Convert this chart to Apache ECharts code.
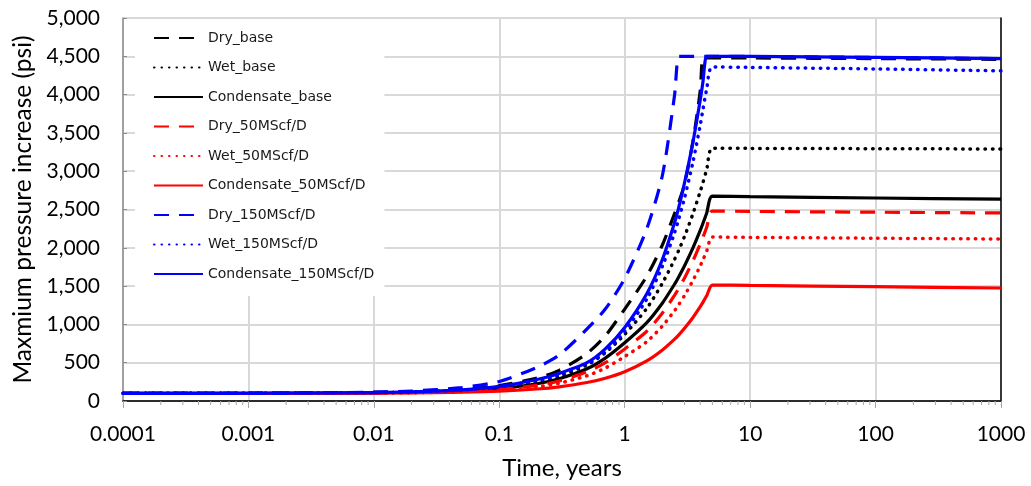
<!DOCTYPE html>
<html>
<head>
<meta charset="utf-8">
<script src="https://cdn.jsdelivr.net/npm/echarts@6/dist/echarts.min.js"></script>
<style>
  html, body { margin: 0; padding: 0; background: #fff; }
  #chart { width: 1031px; height: 486px; }
</style>
</head>
<body>
<div id="chart"></div>
<script>
// Time axis samples (years)
const years = [0.0001, 0.001, 0.01, 0.02, 0.05, 0.1, 0.2, 0.3, 0.5, 0.7, 1, 1.5, 2, 2.5, 2.7, 3, 3.5, 4, 4.2, 4.5, 5, 10, 100, 1000];

// Maximum pressure increase (psi) per case
const dryBase  = [100, 101, 112, 122, 150, 200, 300, 400, 620, 850, 1200, 1630, 2040, 2450, 2600, 2830, 3390, 4050, 4480, 4480, 4480, 4478, 4470, 4460];
const wetBase  = [100, 101, 108, 115, 138, 175, 252, 325, 470, 630, 870, 1210, 1540, 1850, 1970, 2150, 2445, 2735, 2850, 3020, 3300, 3298, 3294, 3290];
const condBase = [100, 101, 106, 112, 130, 160, 225, 290, 420, 560, 760, 1023, 1280, 1526, 1623, 1766, 1999, 2227, 2318, 2452, 2675, 2668, 2650, 2635];
const dry50    = [100, 100, 105, 110, 125, 150, 205, 262, 380, 500, 680, 911, 1149, 1381, 1472, 1607, 1829, 2049, 2137, 2265, 2480, 2475, 2465, 2455];
const wet50    = [100, 100, 104, 108, 120, 140, 185, 232, 330, 430, 580, 775, 980, 1180, 1260, 1378, 1574, 1763, 1841, 1955, 2140, 2136, 2125, 2115];
const cond50   = [100, 100, 103, 106, 114, 128, 157, 185, 241, 298, 383, 524, 666, 807, 864, 949, 1090, 1232, 1288, 1373, 1514, 1509, 1492, 1475];
const dry150   = [100, 101, 115, 130, 175, 255, 440, 600, 940, 1200, 1600, 2250, 2950, 4000, 4500, 4500, 4500, 4500, 4500, 4500, 4500, 4498, 4485, 4470];
const wet150   = [100, 101, 109, 117, 142, 184, 268, 345, 485, 640, 910, 1330, 1760, 2200, 2380, 2650, 3120, 3600, 3800, 4070, 4360, 4355, 4335, 4310];
const cond150  = [100, 101, 110, 118, 145, 190, 280, 360, 500, 680, 960, 1400, 1850, 2330, 2530, 2850, 3380, 3930, 4160, 4500, 4500, 4498, 4485, 4470];

// Log-axis minor tick positions (2..9 within each decade)
const minorTickYears = [];
for (let e = -4; e < 3; e++) {
  for (let k = 2; k <= 9; k++) minorTickYears.push(+(k * Math.pow(10, e)).toPrecision(2));
}

const DASH = [15, 10];
const DOT = [0.5, 7];

const seriesDefs = [
  { name: 'Dry_base',              data: dryBase,  color: '#000000', type: DASH },
  { name: 'Wet_base',              data: wetBase,  color: '#000000', type: DOT },
  { name: 'Condensate_base',       data: condBase, color: '#000000', type: 'solid' },
  { name: 'Dry_50MScf/D',          data: dry50,    color: '#ff0000', type: DASH },
  { name: 'Wet_50MScf/D',          data: wet50,    color: '#ff0000', type: DOT },
  { name: 'Condensate_50MScf/D',   data: cond50,   color: '#ff0000', type: 'solid' },
  { name: 'Dry_150MScf/D',         data: dry150,   color: '#0000ff', type: DASH },
  { name: 'Wet_150MScf/D',         data: wet150,   color: '#0000ff', type: DOT },
  { name: 'Condensate_150MScf/D',  data: cond150,  color: '#0000ff', type: 'solid' }
];

const lineSeries = seriesDefs.map(d => ({
  name: d.name,
  type: 'line',
  xAxisIndex: 0,
  yAxisIndex: 0,
  data: years.map((t, i) => [t, d.data[i]]),
  showSymbol: false,
  symbol: 'none',
  smooth: 0.25,
  color: d.color,
  lineStyle: {
    color: d.color,
    width: d.type === DOT ? 3.5 : 3.2,
    type: d.type,
    cap: d.type === DOT ? 'round' : 'butt'
  },
  emphasis: { disabled: true }
}));

// Short minor ticks hanging below the time axis
const minorTickSeries = {
  type: 'custom',
  xAxisIndex: 0,
  yAxisIndex: 0,
  silent: true,
  clip: false,
  data: minorTickYears.map(t => [t, 0]),
  renderItem: function (params, api) {
    const p = api.coord([api.value(0), 0]);
    return {
      type: 'line',
      shape: { x1: p[0], y1: p[1], x2: p[0], y2: p[1] + 4 },
      style: { stroke: '#a6a6a6', lineWidth: 1 }
    };
  }
};

const labelFont = 'Lato, "Noto Sans", sans-serif';

const option = {
  animation: false,
  backgroundColor: '#ffffff',
  grid: { left: 123, right: 30, top: 18, bottom: 85 },
  legend: {
    orient: 'vertical',
    left: 135,
    top: 19,
    padding: [12, 10, 15, 18],
    backgroundColor: '#ffffff',
    itemWidth: 49,
    itemHeight: 14,
    itemGap: 15.5,
    itemStyle: { opacity: 0 },
    data: seriesDefs.map(d => d.name),
    textStyle: { fontFamily: '"DejaVu Sans", sans-serif', fontSize: 14, color: '#1a1a1a', lineHeight: 14 }
  },
  xAxis: [
    {
      type: 'log',
      logBase: 10,
      min: 0.0001,
      max: 1000,
      interval: 1,
      name: 'Time, years',
      nameLocation: 'middle',
      nameGap: 55,
      nameTextStyle: { fontFamily: labelFont, fontSize: 24, color: '#000' },
      axisLine: { lineStyle: { color: '#a6a6a6', width: 1.5 } },
      axisTick: { show: true, length: 7, lineStyle: { color: '#a6a6a6' } },
      axisLabel: {
        fontFamily: labelFont, fontSize: 21, color: '#000', margin: 23,
        formatter: v => String(+(+v).toPrecision(1))
      },
      splitLine: { show: true, lineStyle: { color: '#d9d9d9', width: 2 } }
    },
    {
      type: 'log',
      logBase: 10,
      min: 0.0001,
      max: 1000,
      position: 'top',
      axisLine: { lineStyle: { color: '#000', width: 1.5 } },
      axisTick: { show: false },
      axisLabel: { show: false },
      splitLine: { show: false }
    }
  ],
  yAxis: [
    {
      type: 'value',
      min: 0,
      max: 5000,
      interval: 500,
      name: 'Maxmium pressure increase (psi)',
      nameLocation: 'middle',
      nameGap: 74,
      nameTextStyle: { fontFamily: labelFont, fontSize: 24.5, color: '#000' },
      axisLine: { show: true, lineStyle: { color: '#8c8c8c', width: 1.5 } },
      axisTick: { show: true, inside: true, length: 4, lineStyle: { color: '#8c8c8c' } },
      axisLabel: {
        fontFamily: labelFont, fontSize: 21, color: '#000', margin: 23,
        formatter: v => v.toLocaleString('en-US')
      },
      splitLine: { show: true, lineStyle: { color: '#d9d9d9', width: 2 } }
    },
    {
      type: 'value',
      min: 0,
      max: 5000,
      position: 'right',
      axisLine: { show: true, lineStyle: { color: '#000', width: 1.5 } },
      axisTick: { show: false },
      axisLabel: { show: false },
      splitLine: { show: false }
    }
  ],
  series: [minorTickSeries].concat(lineSeries)
};

const chart = echarts.init(document.getElementById('chart'), null, { renderer: 'canvas' });
chart.setOption(option);
</script>
</body>
</html>
